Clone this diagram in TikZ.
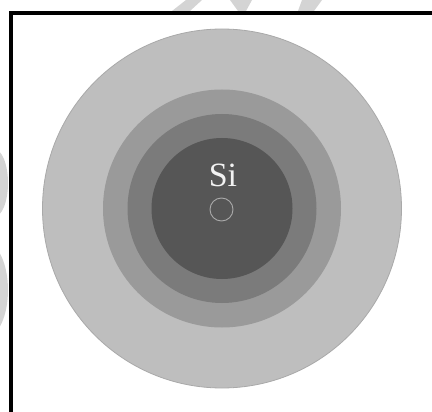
\documentclass[tikz,border=0pt]{standalone}
\usepackage{fontspec}
\setmainfont{Liberation Serif}
\definecolor{ringA}{HTML}{BEBEBE}
\definecolor{ringAedge}{HTML}{A9A9A9}
\definecolor{ringB}{HTML}{9A9A9A}
\definecolor{ringC}{HTML}{7B7B7B}
\definecolor{core}{HTML}{565656}
\definecolor{coreline}{HTML}{A8A8A8}
\definecolor{sitext}{HTML}{F2F2F2}
\definecolor{wmark}{HTML}{D4D4D4}
\tikzset{
  frameline/.style={line width=3.6pt, black},
  wm/.style={fill=wmark, draw=none}
}
\begin{document}
\begin{tikzpicture}[x=1pt,y=-1pt]
\useasboundingbox (0,0) rectangle (432,412);
\fill[white] (0,0) rectangle (432,412);
% faint watermark pieces visible outside the frame
\begin{scope}
  \clip (0,0) rectangle (432,11) (0,0) rectangle (9,412);
  \fill[wm] (172,11) -- (186,0) -- (202,0) -- (190,11) -- cycle;
  \fill[wm] (230,0) -- (252,0) -- (246,11) -- (238,11) -- cycle;
  \fill[wm] (302,0) -- (322,0) -- (314,11) -- (298,11) -- cycle;
  \fill[wm] (-6,183) ellipse (14pt and 34pt);
  \fill[wm] (-14,290) ellipse (22pt and 47pt);
\end{scope}
% frame (top and left)
\draw[frameline] (432,13) -- (10.7,13) -- (10.7,412);
% concentric shells
\fill[ringA] (222,208.5) circle (179.5pt);
\draw[ringAedge, line width=0.8pt] (222,208.5) circle (179.5pt);
\fill[ringB] (222,208.5) circle (119pt);
\fill[ringC] (222,208.5) circle (94.5pt);
\fill[core] (222,208.5) circle (70.5pt);
% nucleus marker
\draw[coreline, line width=0.9pt] (221.5,209.5) circle (11.5pt);
\node[font=\fontsize{34}{34}\selectfont, text=sitext, anchor=base, inner sep=0pt] (si) at (223,186) {Si};
\end{tikzpicture}
\end{document}
